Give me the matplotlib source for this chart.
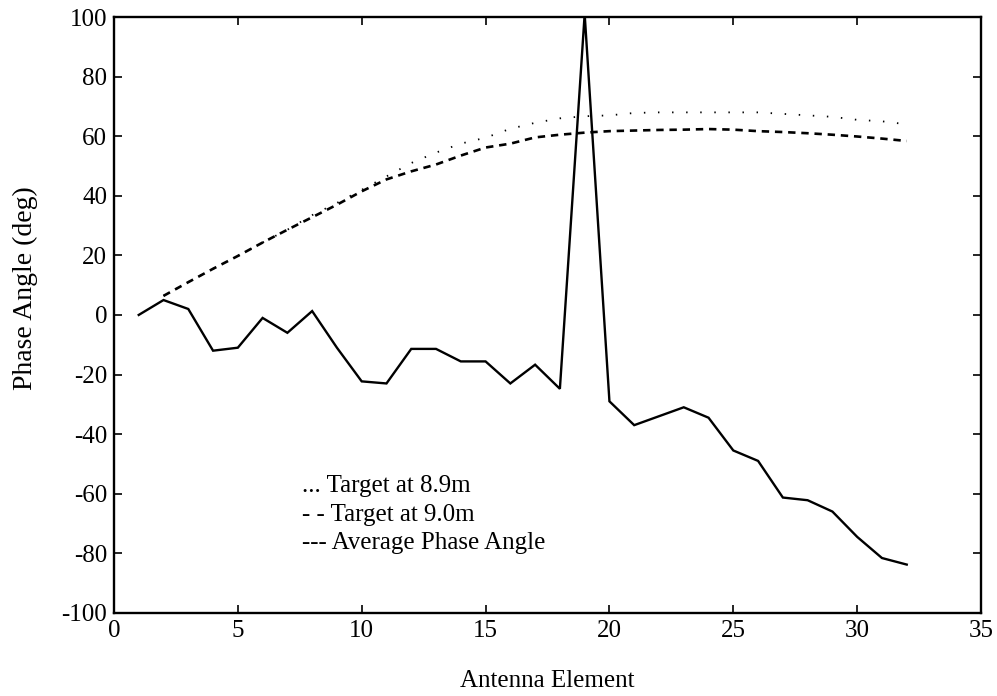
import matplotlib
matplotlib.use("Agg")
import matplotlib.pyplot as plt

elements = list(range(1, 33))
avg_phase = [0, 5, 2, -12, -11, -1, -6, 1.3, -11, -22.3, -23, -11.4, -11.4, -15.6, -15.6, -23,
             -16.7, -24.8, 101, -29, -37, -34, -31, -34.5, -45.5, -49, -61.3, -62.2, -66, -74.5,
             -81.6, -83.8]
elements_t = list(range(2, 33))
target_90 = [6.4, 11, 15.5, 19.8, 24.3, 28.6, 32.8, 37, 41.5, 45.5, 48.2, 50.5, 53.5, 56.2,
             57.5, 59.6, 60.5, 61.2, 61.7, 61.9, 62.1, 62.2, 62.4, 62.2, 61.7, 61.4, 61.0, 60.5,
             59.9, 59.2, 58.4]
target_89 = [6.4, 11, 15.5, 19.8, 24.3, 28.6, 33.5, 37.6, 42, 46.5, 51, 54.5, 57.5, 59.5,
             62.5, 64.5, 66.0, 66.7, 67.0, 67.8, 68, 68, 68, 68, 68, 67.5, 67, 66.5, 65.5, 65, 64]
legend_labels = ["... Target at 8.9m", "- - Target at 9.0m", "--- Average Phase Angle"]
xticks = [0, 5, 10, 15, 20, 25, 30, 35]
yticks = [-100, -80, -60, -40, -20, 0, 20, 40, 60, 80, 100]

plt.rcParams['font.family'] = ['Liberation Serif', 'DejaVu Serif']

fig = plt.figure(figsize=(9.97, 6.96), dpi=100)
ax = fig.add_axes([0.1143, 0.1195, 0.8697, 0.856])

ax.plot(elements, avg_phase, color='black', lw=1.7, solid_joinstyle='miter')
ax.plot(elements_t, target_90, color='black', lw=1.9, linestyle=(0, (2.8, 2.2)))
ax.plot(elements_t, target_89, color='black', lw=1.3, linestyle=(0, (0.8, 7)))

ax.set_xlim(0, 35)
ax.set_ylim(-100, 100)
ax.set_xticks(xticks)
ax.set_yticks(yticks)
ax.set_yticklabels([str(v) for v in yticks])
ax.tick_params(direction='in', top=True, right=True, length=6, width=1.2,
               labelsize=18, pad=5)
for s in ax.spines.values():
    s.set_linewidth(1.7)

ax.set_xlabel("Antenna Element", fontsize=18, labelpad=20)
ax.set_ylabel("Phase Angle (deg)", fontsize=20, labelpad=8)
ax.yaxis.set_label_coords(-0.088, 0.545)

for i, lab in enumerate(legend_labels):
    ax.text(7.6, -57.5 - i * 9.5, lab, fontsize=18, ha='left', va='center')

fig.savefig("out.png", dpi=100)
